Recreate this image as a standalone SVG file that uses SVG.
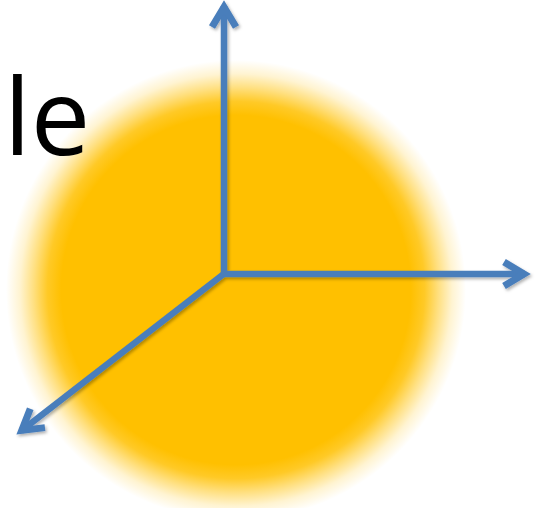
<svg xmlns="http://www.w3.org/2000/svg" width="542" height="508" viewBox="0 0 542 508">
<defs>
<radialGradient id="glow" cx="236" cy="290" r="230" gradientUnits="userSpaceOnUse">
<stop offset="0" stop-color="#FFC000"/>
<stop offset="0.76" stop-color="#FFC000"/>
<stop offset="0.82" stop-color="#FFC000" stop-opacity="0.85"/>
<stop offset="0.88" stop-color="#FFC000" stop-opacity="0.5"/>
<stop offset="0.94" stop-color="#FFC000" stop-opacity="0.18"/>
<stop offset="1" stop-color="#FFC000" stop-opacity="0"/>
</radialGradient>
<marker id="head" markerUnits="userSpaceOnUse" orient="auto" markerWidth="40" markerHeight="40" refX="0" refY="0" viewBox="-30 -20 40 40" overflow="visible">
<path d="M-21,-12 L-1,0 L-21,12" fill="none" stroke="#4A7EBB" stroke-width="7" stroke-linejoin="miter" stroke-linecap="butt"/>
</marker>
<filter id="shadow" x="-20%" y="-20%" width="140%" height="140%">
<feDropShadow dx="1.5" dy="2" stdDeviation="1.5" flood-color="#000" flood-opacity="0.3"/>
</filter>
<style>
.axis{fill:none;stroke:#4A7EBB;stroke-width:6.5;marker-end:url(#head)}
.lbl{font-family:"Open Sans","Liberation Sans",sans-serif;font-size:106px;fill:#000}
</style>
</defs>
<rect width="542" height="508" fill="#fff"/>
<g id="sphere"><circle cx="236" cy="290" r="230" fill="url(#glow)"/></g>
<g id="label"><text class="lbl" x="4" y="155">le</text></g>
<g id="connectors" filter="url(#shadow)">
<path class="axis" d="M224,273 L224,6"/>
<path class="axis" d="M221,274 L525,274"/>
<path class="axis" d="M225,273 L21,431"/>
</g>
</svg>
